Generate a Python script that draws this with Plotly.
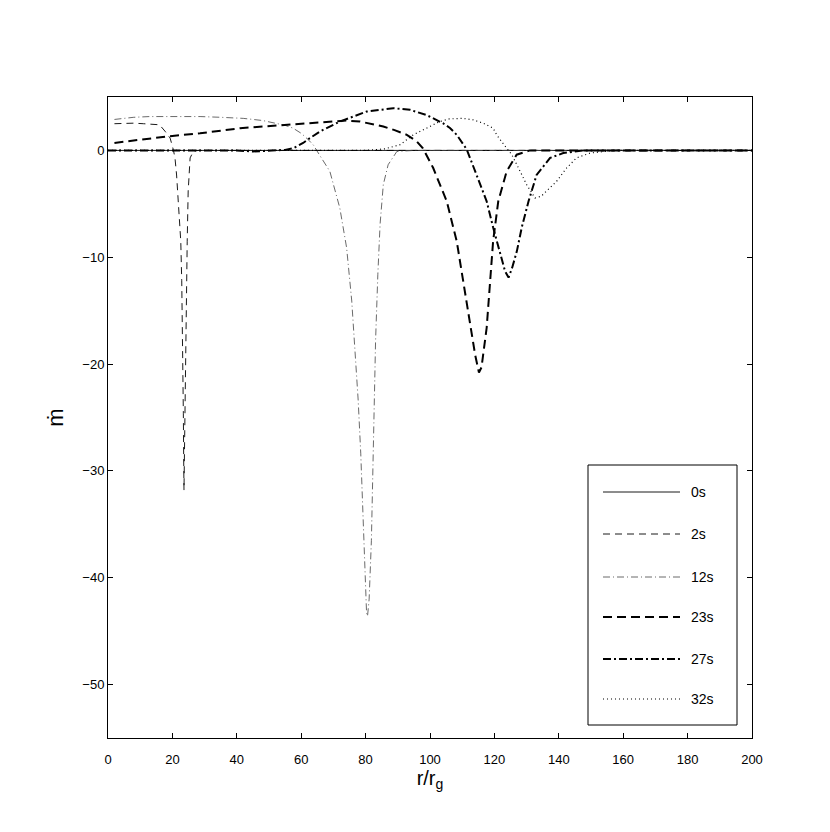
import plotly.graph_objects as go

# ---------------- data ----------------
labels = ["0s", "2s", "12s", "23s", "27s", "32s"]

r_0s = [0, 50, 100, 150, 200]
m_0s = [0, 0, 0, 0, 0]

r_2s = [2, 5, 8, 11, 14, 16, 17.7, 19.3, 20.3, 20.8, 21.3, 21.8, 22.6, 22.9, 23.1, 23.3, 23.4, 23.5, 23.6,
        23.8, 24.0, 24.2, 24.6, 24.9, 25.5, 26.5, 28, 35, 60, 100, 150, 200]
m_2s = [2.5, 2.55, 2.55, 2.5, 2.45, 2.4, 1.8, 1.15, 0.05, -0.7, -2.3, -4.8, -8.5, -12.2, -16, -20.9, -24.6, -28.7, -31.8,
        -27, -20.9, -14.7, -8.5, -3.8, -0.7, -0.1, 0, 0, 0, 0, 0, 0]

r_12s = [2, 8, 13, 20, 28.6, 35, 42, 48, 52.4, 55, 57.5, 60, 61.7, 63.8, 64.8, 66.5, 68.9, 72, 74.1, 75.7, 76.7,
         77.7, 78.5, 79.1, 79.7, 80.3, 80.6, 81.1, 81.8, 82.2, 82.6, 83.1, 83.8, 84.5, 85.5, 87, 89.7, 95, 120, 160, 200]
m_12s = [2.9, 3.1, 3.17, 3.2, 3.17, 3.1, 3.0, 2.8, 2.55, 2.35, 2.08, 1.6, 1.15, 0.5, 0, -0.8, -1.96, -5.4, -9.1, -14.1,
         -18.4, -23.4, -28.4, -33.4, -39, -43.3, -43.6, -42, -36.5, -30.3, -24, -17.8, -11.6, -6.9, -3.2, -1.34, -0.1,
         0, 0, 0, 0]

r_23s = [2, 5.3, 10, 18.2, 28.6, 41, 55.5, 62, 70, 74, 78.3, 82, 85.5, 89, 92.8, 95.9, 97.8, 101, 105.2, 108.3,
         110.4, 112.5, 114, 115.2, 116, 117.6, 118.6, 119.6, 121.2, 123.8, 126.9, 131, 140, 200]
m_23s = [0.7, 0.84, 1.0, 1.3, 1.6, 2.08, 2.4, 2.55, 2.7, 2.8, 2.7, 2.5, 2.24, 1.9, 1.46, 0.84, 0.2, -1.65, -4.76,
         -8.5, -12.5, -16.6, -19.1, -20.8, -20.3, -16.6, -12.5, -8.5, -4.76, -1.96, -0.4, 0, 0, 0]

r_27s = [0, 20, 40, 45, 50, 55, 57.5, 60.6, 62.7, 65.8, 72, 80.3, 88.6, 93.8, 99, 104, 106.2, 108.3, 111.4, 114.5,
         117.6, 119.6, 121.7, 123.3, 124.4, 125.5, 127, 128.5, 130.6, 133.1, 137.3, 141.4, 147.6, 160, 200]
m_27s = [0, 0, 0, -0.1, 0, 0.05, 0.2, 0.7, 1.15, 1.77, 2.7, 3.64, 3.95, 3.8, 3.3, 2.55, 2.1, 1.46, 0.1, -2.3,
         -4.76, -7.2, -9.4, -11.3, -11.9, -11.0, -9.4, -7.2, -4.76, -2.3, -0.7, -0.25, 0, 0, 0]

r_32s = [0, 40, 80, 86, 90.7, 94.8, 99, 103, 106, 108.3, 110.3, 113.4, 116.5, 119.6, 120.7, 122.8, 125.4, 128, 130,
         132.6, 134.5, 136.2, 139.3, 142.4, 145.5, 149.7, 157, 180, 200]
m_32s = [0, 0, 0, 0.15, 0.53, 1.46, 2.08, 2.7, 2.95, 3.0, 3.0, 2.86, 2.55, 2.08, 1.46, 0.6, -0.4, -1.96, -3.2,
         -4.45, -4.3, -3.8, -2.9, -1.65, -0.7, -0.25, 0, 0, 0]

x_ticks = [0, 20, 40, 60, 80, 100, 120, 140, 160, 180, 200]
y_ticks = [-50, -40, -30, -20, -10, 0]

# ---------------- styles ----------------
series = [
    (r_0s, m_0s, dict(color="black", width=0.9, dash="solid")),
    (r_2s, m_2s, dict(color="black", width=0.9, dash="7px,5px")),
    (r_12s, m_12s, dict(color="#444", width=0.8, dash="7px,3px,1px,3px")),
    (r_23s, m_23s, dict(color="black", width=2.0, dash="9px,5px")),
    (r_27s, m_27s, dict(color="black", width=2.0, dash="8px,3px,2px,3px")),
    (r_32s, m_32s, dict(color="black", width=1.2, dash="1px,3px")),
]

fig = go.Figure()
for (r, m, ln), name in zip(series, labels):
    fig.add_trace(go.Scatter(x=r, y=m, mode="lines", name=name, line=ln, showlegend=False))

# ---------------- manual legend (box, sample lines, labels) ----------------
# page is shown with an 8px body margin, so the figure origin sits at (8, 8)
OFF = 8
PL, PR, PT, PB = 108, 752, 97, 738   # plot area in screenshot pixels
def px_to_paper_x(px):
    return (px - PL) / (PR - PL)
def px_to_paper_y(py):
    return (PB - py) / (PB - PT)

shapes = [dict(type="rect", xref="paper", yref="paper",
               x0=px_to_paper_x(588), x1=px_to_paper_x(737),
               y0=px_to_paper_y(725), y1=px_to_paper_y(465),
               line=dict(color="black", width=1), fillcolor="white", layer="above")]
annotations = []
row_px = [492, 534, 577, 617, 659, 699]
for (r, m, ln), name, ry in zip(series, labels, row_px):
    shapes.append(dict(type="line", xref="paper", yref="paper",
                       x0=px_to_paper_x(603), x1=px_to_paper_x(680),
                       y0=px_to_paper_y(ry), y1=px_to_paper_y(ry),
                       line=dict(color=ln["color"], width=ln["width"], dash=ln["dash"]), layer="above"))
    annotations.append(dict(xref="paper", yref="paper", x=px_to_paper_x(689), y=px_to_paper_y(ry),
                            text=name, showarrow=False, xanchor="left", yanchor="middle",
                            font=dict(size=14, color="black")))

W, H = 830, 832
fig.update_layout(
    width=W, height=H,
    margin=dict(l=PL - OFF, r=W - (PR - OFF), t=PT - OFF, b=H - (PB - OFF)),
    paper_bgcolor="white", plot_bgcolor="white",
    font=dict(family="Liberation Sans, Arial, Helvetica, sans-serif", size=13, color="black"),
    shapes=shapes, annotations=annotations,
    showlegend=False,
)
fig.update_xaxes(range=[0, 200], tickvals=x_ticks, ticks="inside", ticklen=5, tickcolor="black",
                 showline=True, linecolor="black", linewidth=1, mirror="ticks", showgrid=False, zeroline=False,
                 ticklabelstandoff=9,
                 title=dict(text="r/r<sub>g</sub>", font=dict(size=20), standoff=0))
fig.update_yaxes(range=[-55, 5], tickvals=y_ticks, ticks="inside", ticklen=5, tickcolor="black",
                 showline=True, linecolor="black", linewidth=1, mirror="ticks", showgrid=False, zeroline=False,
                 title=dict(text="ṁ", font=dict(size=22), standoff=12))

fig.write_html("out.html")
